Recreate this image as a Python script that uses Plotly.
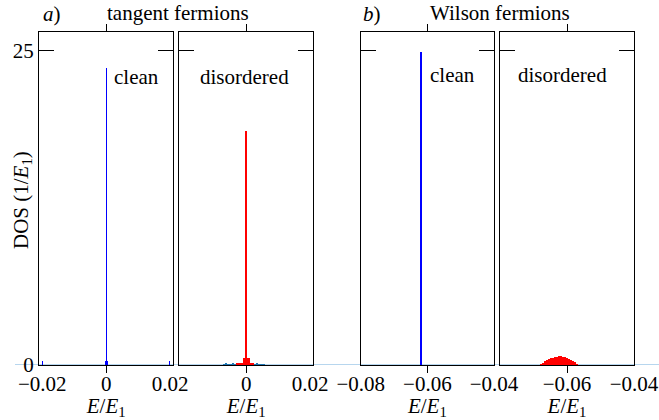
import plotly.graph_objects as go

# ---- data ----
# (a) tangent fermions, clean
a_clean_E = [-0.0198, -0.0003, 0.0, 0.0003, 0.0198]
a_clean_dos = [0.3, 0.3, 23.6, 0.3, 0.3]
# (a) tangent fermions, disordered (blue background histogram + red DOS)
a_dis_bg_E = [-0.0070, -0.0063, -0.0056, -0.0049, -0.0042, -0.0035, -0.0028, -0.0021, -0.0014,
              -0.0007, 0.0, 0.0007, 0.0014, 0.0021, 0.0028, 0.0035, 0.0042, 0.0049, 0.0056]
a_dis_bg_dos = [0.10, 0.12, 0.10, 0.11, 0.12, 0.10, 0.12, 0.13, 0.12, 0.14, 0.15, 0.14, 0.12,
                0.13, 0.11, 0.12, 0.10, 0.11, 0.10]
a_dis_E = [-0.0028, -0.0021, -0.0014, -0.0007, 0.0, 0.0007, 0.0014, 0.0021]
a_dis_dos = [0.12, 0.13, 0.15, 0.55, 18.6, 0.55, 0.15, 0.12]
# (b) Wilson fermions, clean
b_clean_E = [-0.062]
b_clean_dos = [24.9]
# (b) Wilson fermions, disordered
b_dis_E = [-0.0677, -0.0671, -0.0665, -0.0659, -0.0653, -0.0647, -0.0641, -0.0635, -0.0629, -0.0623,
           -0.0617, -0.0611, -0.0605, -0.0599, -0.0593, -0.0587, -0.0581, -0.0575, -0.0569]
b_dis_dos = [0.08, 0.16, 0.28, 0.36, 0.44, 0.52, 0.56, 0.60, 0.64, 0.68, 0.68, 0.64, 0.60, 0.56,
             0.48, 0.40, 0.32, 0.20, 0.08]

a_ticks = [-0.02, 0.0, 0.02]
a_ticktext = ["−0.02", "0", "0.02"]
a2_ticks = [0.0, 0.02]
a2_ticktext = ["0", "0.02"]
b_ticks = [-0.08, -0.06, -0.04]
b_ticktext = ["−0.08", "−0.06", "−0.04"]
b2_ticks = [-0.06, -0.04]
b2_ticktext = ["−0.06", "−0.04"]
y_ticks = [0, 25]

FONT = "Liberation Serif"
FS = 21
BLUE = "#0000ff"
RED = "#ff0000"
STEEL = "#1f77b4"

fig = go.Figure()

def bars(x, y, color, width, xa, ya):
    fig.add_trace(go.Bar(x=x, y=y, width=width, marker=dict(color=color, line=dict(width=0)),
                         xaxis=xa, yaxis=ya, showlegend=False))

bars(a_clean_E, a_clean_dos, BLUE, 0.0003, "x", "y")
bars(a_dis_bg_E, a_dis_bg_dos, STEEL, 0.0007, "x2", "y2")
bars(a_dis_E, a_dis_dos, RED, 0.0007, "x2", "y2")
bars(b_clean_E, b_clean_dos, BLUE, 0.0006, "x3", "y3")
bars(b_dis_E, b_dis_dos, RED, 0.0006, "x4", "y4")

domains = [[0.0, 0.2257], [0.2353, 0.4610], [0.5407, 0.7647], [0.7748, 1.0]]
xranges = [[-0.021, 0.021], [-0.021, 0.021], [-0.08, -0.04], [-0.08, -0.04]]
xtv = [(a_ticks, a_ticktext), (a2_ticks, a2_ticktext), (b_ticks, b_ticktext), (b2_ticks, b2_ticktext)]
centers = [0.0, 0.0, -0.06, -0.06]
xtitle = "<i>E</i>/<i>E</i><sub>1</sub>"

layout = dict(
    width=659, height=420,
    margin=dict(l=39, r=25, t=32, b=55, autoexpand=False),
    paper_bgcolor="white", plot_bgcolor="white",
    barmode="overlay", bargap=0,
    font=dict(family=FONT, size=FS, color="black"),
    showlegend=False,
)
for i in range(4):
    s = "" if i == 0 else str(i + 1)
    layout["xaxis" + s] = dict(
        domain=domains[i], range=xranges[i], anchor="y" + s,
        tickvals=xtv[i][0], ticktext=xtv[i][1], ticks="",
        minor=dict(tickvals=[centers[i]], ticks="outside", ticklen=7, tickcolor="black", tickwidth=1),
        showline=True, linecolor="black", linewidth=1, mirror="ticks",
        showgrid=False, zeroline=False, fixedrange=True, automargin=False,
        title=dict(text=xtitle, standoff=0, font=dict(size=FS)),
        tickfont=dict(size=FS),
    )
    layout["yaxis" + s] = dict(
        domain=[0, 1], range=[0, 26.45], anchor="x" + s,
        tickvals=y_ticks, ticks="inside", ticklen=15, tickcolor="black", tickwidth=1,
        showticklabels=(i == 0),
        showline=True, linecolor="black", linewidth=1, mirror="ticks",
        showgrid=False, zeroline=False, fixedrange=True, automargin=False,
        tickfont=dict(size=FS),
    )
fig.update_layout(**layout)

# light-blue baseline running under all panels
fig.add_shape(type="line", xref="paper", yref="y", x0=-0.0403, x1=1.042, y0=0, y1=0,
              line=dict(color="#9fc8e8", width=1.5), layer="below")

def ann(text, x, y, angle=0):
    fig.add_annotation(text=text, x=x, y=y, xref="paper", yref="paper", showarrow=False,
                       xanchor="center", yanchor="middle", textangle=angle,
                       font=dict(family=FONT, size=FS))

# page pixel -> paper: x=(px-39)/595, y=(365-py)/333
ann("<i>a</i>)", (52 - 39) / 595, (365 - 14) / 333)
ann("tangent fermions", (178 - 39) / 595, (365 - 13) / 333)
ann("<i>b</i>)", (372 - 39) / 595, (365 - 14) / 333)
ann("Wilson fermions", (500 - 39) / 595, (365 - 13) / 333)
ann("clean", (136 - 39) / 595, (365 - 77) / 333)
ann("disordered", (244 - 39) / 595, (365 - 77) / 333)
ann("clean", (452 - 39) / 595, (365 - 75) / 333)
ann("disordered", (562 - 39) / 595, (365 - 75) / 333)
ann("DOS (1/<i>E</i><sub>1</sub>)", (22 - 39) / 595, (365 - 200) / 333, angle=-90)

# remove the default 8px page margin so the figure fills the window exactly
fig.write_html("out.html", config={"displayModeBar": False, "staticPlot": True},
               post_script="document.body.style.margin='0px';")
